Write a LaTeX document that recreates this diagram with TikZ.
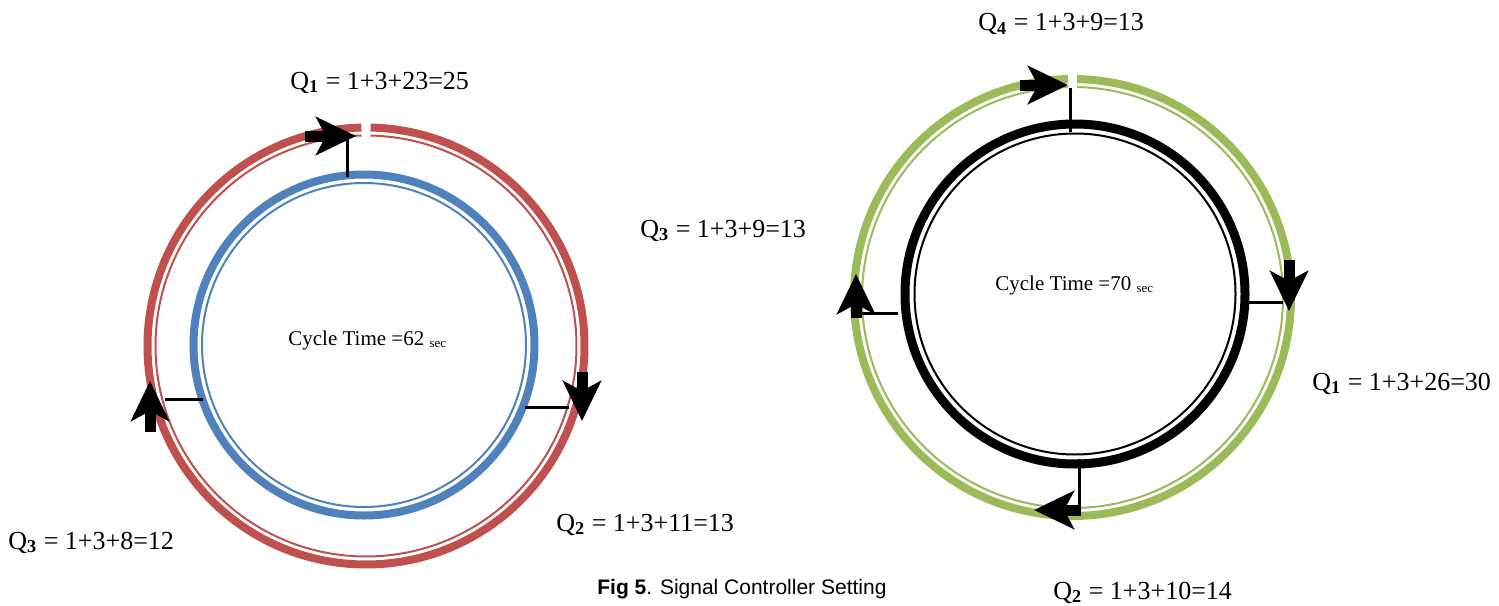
\documentclass[tikz,border=0pt]{standalone}
\usepackage{fontspec}
\setmainfont{Liberation Serif}
\newfontfamily\capfont{Liberation Sans}
\usetikzlibrary{arrows.meta,calc}
\definecolor{ringred}{HTML}{C0504D}
\definecolor{ringblue}{HTML}{4F81BD}
\definecolor{ringgreen}{HTML}{9BBB59}
\newcommand{\smallsec}{\raisebox{-1pt}{\fontsize{6.5}{7}\selectfont sec}}
\begin{document}
\begin{tikzpicture}[x=0.5pt,y=-0.5pt,
  thickring/.style={line width=4pt},
  thinring/.style={line width=1pt},
  blockarrow/.style={line width=5.5pt,-{Stealth[length=20pt,width=19pt,inset=5pt]}},
  link/.style={line width=1.5pt},
  qlabel/.style={anchor=base west,inner sep=0pt,font=\fontsize{13}{15}\selectfont},
  cyc/.style={anchor=base west,inner sep=0pt,font=\fontsize{10.5}{12}\selectfont},
]
\useasboundingbox (0,0) rectangle (1499,605);
% ---------- left diagram ----------
% red outer ring with small break at top
\draw[ringred,thickring] ($(366,346)+(271.2:218.5)$) arc[start angle=271.2,end angle=628.8,radius=218.5];
\draw[ringred,thinring] ($(366,346)+(271.2:210.5)$) arc[start angle=271.2,end angle=628.8,radius=210.5];
% blue inner ring
\draw[ringblue,thickring] (364,345) circle[radius=170.5];
\draw[ringblue,thinring] (364,345) circle[radius=162];
% arrows
\coordinate (La1s) at (305,136); \coordinate (La1t) at (356,136);
\coordinate (La2s) at (150,432); \coordinate (La2t) at (150,381);
\coordinate (La3s) at (582,372); \coordinate (La3t) at (582,421);
\draw[blockarrow] (La1s) -- (La1t);
\draw[blockarrow] (La2s) -- (La2t);
\draw[blockarrow] (La3s) -- (La3t);
% links
\coordinate (Ll1a) at (347,177); \coordinate (Ll1b) at (347,135);
\coordinate (Ll2a) at (203,399); \coordinate (Ll2b) at (165,399);
\coordinate (Ll3a) at (525,407); \coordinate (Ll3b) at (569,407);
\draw[link] (Ll1a) -- (Ll1b);
\draw[link] (Ll2a) -- (Ll2b);
\draw[link] (Ll3a) -- (Ll3b);
% ---------- right diagram ----------
\draw[ringgreen,thickring] ($(1072.5,297.5)+(271.2:218.5)$) arc[start angle=271.2,end angle=628.8,radius=218.5];
\draw[ringgreen,thinring] ($(1072.5,297.5)+(271.2:210.5)$) arc[start angle=271.2,end angle=628.8,radius=210.5];
\draw[black,line width=4.5pt] (1075,294) circle[radius=170];
\draw[black,thinring] (1075,294) circle[radius=160.5];
\coordinate (Ra1s) at (1020,85); \coordinate (Ra1t) at (1068,85);
\coordinate (Ra2s) at (1289,260); \coordinate (Ra2t) at (1289,311);
\coordinate (Ra3s) at (856,318); \coordinate (Ra3t) at (856,274);
\coordinate (Ra4s) at (1081,510); \coordinate (Ra4t) at (1034,510);
\draw[blockarrow] (Ra1s) -- (Ra1t);
\draw[blockarrow] (Ra2s) -- (Ra2t);
\draw[blockarrow] (Ra3s) -- (Ra3t);
\draw[blockarrow] (Ra4s) -- (Ra4t);
\coordinate (Rl1a) at (1070,132); \coordinate (Rl1b) at (1070,88);
\coordinate (Rl2a) at (1247,302); \coordinate (Rl2b) at (1283,302);
\coordinate (Rl3a) at (898,313); \coordinate (Rl3b) at (860,313);
\coordinate (Rl4a) at (1079,459); \coordinate (Rl4b) at (1079,512);
\draw[link] (Rl1a) -- (Rl1b);
\draw[link] (Rl2a) -- (Rl2b);
\draw[link] (Rl3a) -- (Rl3b);
\draw[link] (Rl4a) -- (Rl4b);
% ---------- labels ----------
\node[qlabel] (q1l) at (290,89) {Q\textsubscript{\textbf{1}} = 1+3+23=25};
\node[qlabel] (q3m) at (640,237) {Q\textsubscript{\textbf{3}} = 1+3+9=13};
\node[qlabel] (q3l) at (8,549) {Q\textsubscript{\textbf{3}} = 1+3+8=12};
\node[qlabel] (q2l) at (556,531) {Q\textsubscript{\textbf{2}} = 1+3+11=13};
\node[qlabel] (q4r) at (978,31) {Q\textsubscript{\textbf{4}} = 1+3+9=13};
\node[qlabel] (q1r) at (1312,390) {Q\textsubscript{\textbf{1}} = 1+3+26=30};
\node[qlabel] (q2r) at (1053,599) {Q\textsubscript{\textbf{2}} = 1+3+10=14};
\node[cyc] (c62) at (288,345) {Cycle Time =62 \smallsec};
\node[cyc] (c70) at (995,290) {Cycle Time =70 \smallsec};
\node[anchor=base west,inner sep=0pt,font=\capfont\fontsize{10.5}{12}\selectfont] (cap) at (597,594.5) {\textbf{Fig 5}. Signal Controller Setting};
\end{tikzpicture}
\end{document}
